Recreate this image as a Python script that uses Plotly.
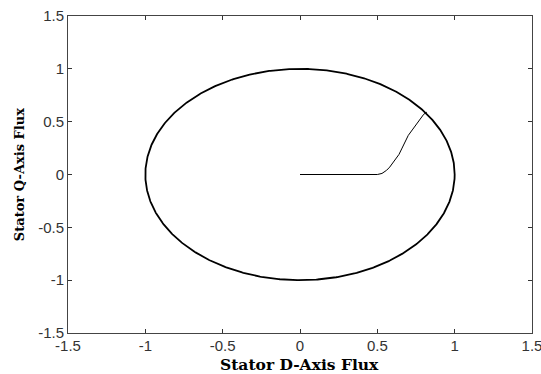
import numpy as np
import plotly.graph_objects as go

# Start-up transient of the stator flux vector (D-axis, Q-axis)
transient_d = [0.00, 0.10, 0.20, 0.30, 0.40, 0.50, 0.53, 0.56, 0.58, 0.61, 0.64, 0.66, 0.68, 0.70, 0.73, 0.76, 0.78, 0.80, 0.82]
transient_q = [0.00, 0.00, 0.00, 0.00, 0.00, 0.00, 0.01, 0.04, 0.07, 0.13, 0.19, 0.25, 0.31, 0.37, 0.43, 0.49, 0.53, 0.57, 0.59]

# Steady-state flux magnitude: the locus is a circle of this radius
flux_magnitude = 1.0
locus_angle_deg = np.linspace(0, 360, 721)

tick_values = [-1.5, -1, -0.5, 0, 0.5, 1, 1.5]
tick_labels = ["-1.5", "-1", "-0.5", "0", "0.5", "1", "1.5"]

theta = np.deg2rad(locus_angle_deg)
locus_d = flux_magnitude * np.cos(theta)
locus_q = flux_magnitude * np.sin(theta)

fig = go.Figure()
fig.add_trace(go.Scatter(x=locus_d, y=locus_q, mode="lines",
                         line=dict(color="black", width=1.8), hoverinfo="skip"))
fig.add_trace(go.Scatter(x=transient_d, y=transient_q, mode="lines",
                         line=dict(color="black", width=1), hoverinfo="skip"))

axis_common = dict(
    range=[-1.5, 1.5], tickvals=tick_values, ticktext=tick_labels,
    ticks="inside", ticklen=4, tickwidth=1, tickcolor="#333",
    showline=True, linecolor="#444", linewidth=1, mirror="ticks",
    showgrid=False, zeroline=False, ticklabeloverflow="allow", automargin=False,
    tickfont=dict(family="Liberation Sans, Arial", size=15, color="#333"),
)

title_font = dict(family="DejaVu Serif", color="black", weight="bold")

fig.update_layout(
    width=541, height=374,
    margin=dict(l=68, r=9, t=16, b=41),
    paper_bgcolor="white", plot_bgcolor="white",
    showlegend=False,
    xaxis=dict(**axis_common, ticklabelstandoff=-1),
    yaxis=dict(**axis_common),
    annotations=[
        dict(text="Stator D-Axis Flux",
             xref="paper", yref="paper", x=0.499, y=-0.098,
             xanchor="center", yanchor="middle", showarrow=False,
             font=dict(**title_font, size=15.5)),
        dict(text="Stator Q-Axis Flux", textangle=-90,
             xref="paper", yref="paper", x=-0.1056, y=0.498,
             xanchor="center", yanchor="middle", showarrow=False,
             font=dict(**title_font, size=13)),
    ],
)

fig.write_html("out.html")
